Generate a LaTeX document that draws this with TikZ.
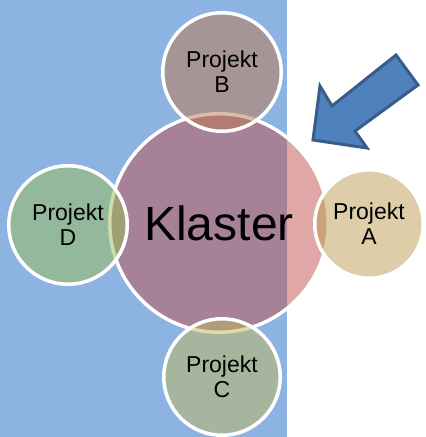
\documentclass[tikz,border=0pt]{standalone}
\usepackage{fontspec}
\setmainfont{Liberation Sans}
\usetikzlibrary{positioning}

\definecolor{bgblue}{RGB}{141,179,226}
\definecolor{hubred}{RGB}{192,80,77}
\definecolor{projA}{RGB}{187,155,81}
\definecolor{projB}{RGB}{191,121,78}
\definecolor{projC}{RGB}{191,183,90}
\definecolor{projD}{RGB}{155,189,86}
\definecolor{arrowfill}{RGB}{79,129,189}
\definecolor{arrowline}{RGB}{56,93,138}

\begin{document}
\begin{tikzpicture}[x=1pt, y=-1pt,
  every node/.style={circle, draw=white, line width=3.5pt, inner sep=0pt,
    align=center, fill opacity=0.5, text opacity=1, text=black},
  hub/.style={fill=hubred, minimum size=218.5pt, font=\fontsize{48}{50}\selectfont},
  sat/.style={minimum size=118.5pt, font=\fontsize{23}{25}\selectfont},
  blockarrow/.style={fill=arrowfill, draw=arrowline, line width=3pt, line join=miter}]

  \useasboundingbox (0,0) rectangle (426,437);
  \fill[bgblue] (0,0) rectangle (287,437);

  \node[hub] (klaster) at (219,223) {Klaster};

  \node[sat, fill=projB] (B) at (222,72) {Projekt\\B};
  \node[sat, fill=projA, minimum size=108.5pt] (A) at (369,224) {Projekt\\A};
  \node[sat, fill=projC, minimum size=116.5pt] (C) at (222,377) {Projekt\\C};
  \node[sat, fill=projD] (D) at (68,225) {Projekt\\D};

  \draw[blockarrow] (313,140) -- (320,86) -- (332,106) -- (396,55)
    -- (418,85) -- (355,131) -- (367,148) -- cycle;

\end{tikzpicture}
\end{document}
